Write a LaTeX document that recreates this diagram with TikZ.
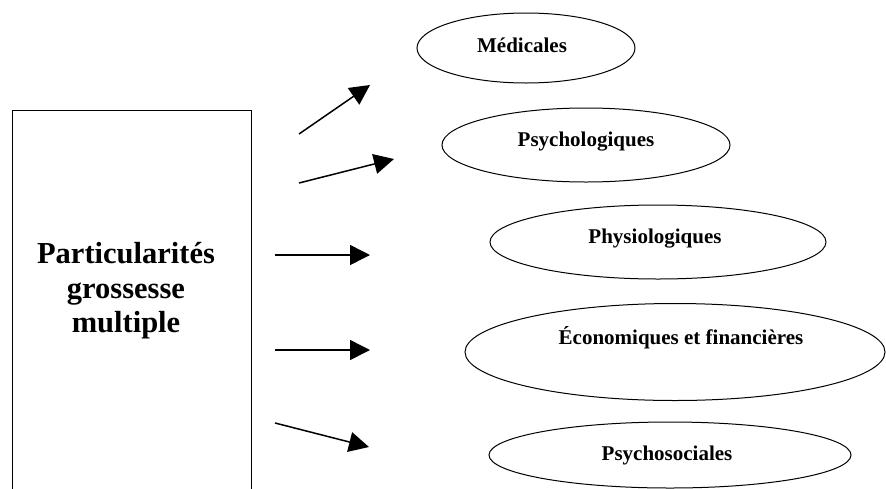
\documentclass[tikz,border=0pt]{standalone}
\usepackage{fontspec}
\setmainfont{Liberation Serif}
\usetikzlibrary{shapes.geometric,arrows.meta}
\tikzset{
  oval/.style={draw, ellipse, line width=1pt, inner sep=0pt},
  ovaltext/.style={font=\bfseries\fontsize{21}{25}\selectfont, inner sep=0pt},
  mainbox/.style={draw, line width=1pt, inner sep=0pt},
  maintext/.style={font=\bfseries\fontsize{30.5}{34.5}\selectfont, align=center, inner sep=0pt},
  fleche/.style={line width=1.5pt, -{Triangle[length=20pt,width=20pt]}}
}
\begin{document}
\begin{tikzpicture}[x=1pt,y=-1pt]
\useasboundingbox (0,0) rectangle (886,488);
\clip (0,0) rectangle (886,488);

% main box, its lower edge runs past the page
\node[mainbox, minimum width=239pt, minimum height=392pt, anchor=north west] (box) at (12,110) {};
\node[maintext] (boxt) at (126,291) {Particularités\\grossesse\\multiple};

% the five categories
\node[oval, minimum width=218pt, minimum height=70pt] (med) at (526,48) {};
\node[ovaltext] (medt) at (522,45) {Médicales};

\node[oval, minimum width=288pt, minimum height=74pt] (psy) at (586,145) {};
\node[ovaltext] (psyt) at (586,142) {Psychologiques};

\node[oval, minimum width=336pt, minimum height=74pt] (phy) at (658,242) {};
\node[ovaltext] (phyt) at (655,239) {Physiologiques};

\node[oval, minimum width=420pt, minimum height=97pt] (eco) at (675,352) {};
\node[ovaltext] (ecot) at (681,338) {Économiques et financières};

\node[oval, minimum width=362pt, minimum height=66pt] (soc) at (670,455) {};
\node[ovaltext] (soct) at (667,455) {Psychosociales};

% arrow end points
\coordinate (a1s) at (299,134); \coordinate (a1e) at (370,85);
\coordinate (a2s) at (299,183); \coordinate (a2e) at (394,159);
\coordinate (a3s) at (275,255); \coordinate (a3e) at (370,255);
\coordinate (a4s) at (275,350); \coordinate (a4e) at (370,350);
\coordinate (a5s) at (275,423); \coordinate (a5e) at (369,447);

\draw[fleche] (a1s) -- (a1e);
\draw[fleche] (a2s) -- (a2e);
\draw[fleche] (a3s) -- (a3e);
\draw[fleche] (a4s) -- (a4e);
\draw[fleche] (a5s) -- (a5e);
\end{tikzpicture}
\end{document}
